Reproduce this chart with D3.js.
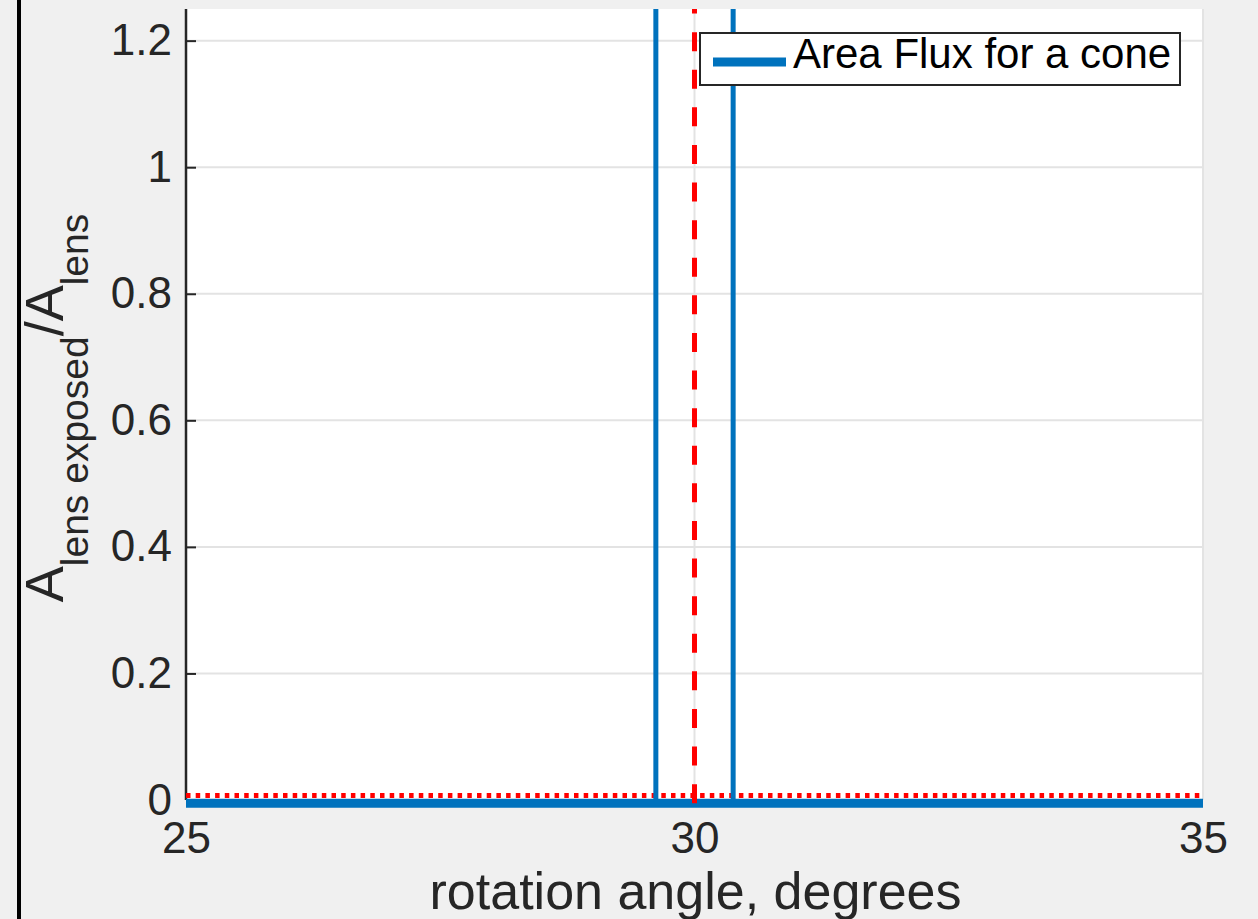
<!DOCTYPE html>
<html>
<head>
<meta charset="utf-8">
<script src="https://cdn.jsdelivr.net/npm/d3@7"></script>
<style>
  body { margin: 0; background: #f0f0f0; }
  svg { display: block; font-family: "Liberation Sans", Arial, sans-serif; }
</style>
</head>
<body>
<div id="chart"></div>
<script>
// data
const xTicks = [25, 30, 35];
const yTicks = [0, 0.2, 0.4, 0.6, 0.8, 1, 1.2];
const fluxAngle = [25, 35];
const fluxValue = [-0.005, -0.005];
const spikeAngle = [29.62, 30.38];
const spikeValue = [-0.005, 2];          // runs off the top of the axes
const centerAngle = 30;
const centerValue = [-0.005, 2];
const thresholdAngle = [25, 35];
const thresholdValue = [0.007, 0.007];

const svgWidth = 1258;
const svgHeight = 919;
const blue = "#0072bd";
const red = "#ff0000";
const ink = "#262626";

const svg = d3.select("#chart")
    .append("svg")
    .attr("width", svgWidth)
    .attr("height", svgHeight);

svg.append("rect").attr("width", svgWidth).attr("height", svgHeight).attr("fill", "#f0f0f0");
// black edge on the left of the window
svg.append("rect").attr("x", 17).attr("y", 0).attr("width", 4).attr("height", svgHeight).attr("fill", "#000");

const x = d3.scaleLinear().domain([25, 35]).range([186, 1203]);
const y = d3.scaleLinear().domain([0, 1.25]).range([800, 9]);

svg.append("rect")
    .attr("x", x(25)).attr("y", y(1.25))
    .attr("width", x(35) - x(25)).attr("height", y(0) - y(1.25))
    .attr("fill", "#fff");

svg.append("clipPath").attr("id", "clip")
    .append("rect")
    .attr("x", x(25)).attr("y", y(1.25))
    .attr("width", x(35) - x(25)).attr("height", 815 - y(1.25));

// grid
const grid = svg.append("g").attr("stroke", "#e3e3e3").attr("stroke-width", 2);
grid.selectAll(".gy").data(yTicks).enter().append("line")
    .attr("x1", x(25)).attr("x2", x(35))
    .attr("y1", d => y(d)).attr("y2", d => y(d));
grid.selectAll(".gx").data(xTicks).enter().append("line")
    .attr("x1", d => x(d)).attr("x2", d => x(d))
    .attr("y1", y(1.25)).attr("y2", y(0));

// y axis
const yAxis = d3.axisLeft(y).tickValues(yTicks).tickSize(-10).tickPadding(14)
    .tickFormat(d => d3.format("~g")(d));
const gy = svg.append("g").attr("transform", `translate(${x(25)},0)`).call(yAxis);
gy.select(".domain").attr("stroke", ink).attr("stroke-width", 2.5).attr("d", `M0,${y(1.25)}V${y(0)}`);
gy.selectAll(".tick line").attr("stroke", ink).attr("stroke-width", 2);
gy.selectAll(".tick text").attr("fill", ink).attr("font-size", 44).attr("font-family", "Liberation Sans, Arial, sans-serif");

// x axis
const xAxis = d3.axisBottom(x).tickValues(xTicks).tickSize(0).tickPadding(22);
const gx = svg.append("g").attr("transform", `translate(0,${y(0)})`).call(xAxis);
gx.select(".domain").remove();
gx.selectAll(".tick text").attr("fill", ink).attr("font-size", 44).attr("font-family", "Liberation Sans, Arial, sans-serif");

const plot = svg.append("g").attr("clip-path", "url(#clip)");
const line = d3.line().x(d => x(d[0])).y(d => y(d[1]));

plot.append("path")
    .attr("d", line(d3.zip(thresholdAngle, thresholdValue)))
    .attr("fill", "none").attr("stroke", red).attr("stroke-width", 5)
    .attr("stroke-dasharray", "4.5,5.2");

plot.selectAll(".spike").data(spikeAngle).enter().append("path")
    .attr("d", a => line(spikeValue.map(v => [a, v])))
    .attr("fill", "none").attr("stroke", blue).attr("stroke-width", 5);

plot.append("path")
    .attr("d", line(d3.zip(fluxAngle, fluxValue)))
    .attr("fill", "none").attr("stroke", blue).attr("stroke-width", 9);

plot.append("path")
    .attr("d", line(centerValue.map(v => [centerAngle, v])))
    .attr("fill", "none").attr("stroke", red).attr("stroke-width", 5)
    .attr("stroke-dasharray", "19,18.6");

// labels
svg.append("text")
    .attr("x", (x(25) + x(35)) / 2 + 1).attr("y", 909)
    .attr("text-anchor", "middle").attr("font-size", 52).attr("fill", ink)
    .text("rotation angle, degrees");

const yl = svg.append("text")
    .attr("transform", `translate(63,408) rotate(-90)`)
    .attr("text-anchor", "middle").attr("font-size", 54).attr("fill", ink);
yl.append("tspan").text("A");
yl.append("tspan").attr("font-size", 39).attr("dy", 25).text("lens exposed");
yl.append("tspan").attr("dy", -25).text("/A");
yl.append("tspan").attr("font-size", 39).attr("dy", 25).text("lens");

// legend
const lg = svg.append("g");
lg.append("rect").attr("x", 700).attr("y", 33).attr("width", 480).attr("height", 52)
    .attr("fill", "#fff").attr("stroke", ink).attr("stroke-width", 2);
lg.append("line").attr("x1", 713).attr("x2", 786).attr("y1", 62).attr("y2", 62)
    .attr("stroke", blue).attr("stroke-width", 9);
lg.append("text").attr("x", 793).attr("y", 68).attr("font-size", 42).attr("fill", "#000")
    .text("Area Flux for a cone");
</script>
</body>
</html>
